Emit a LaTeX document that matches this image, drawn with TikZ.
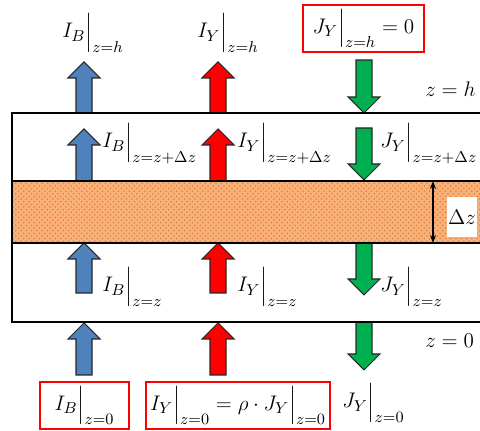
\documentclass[tikz,border=0pt]{standalone}
\usepackage{amsmath}
\usetikzlibrary{arrows.meta, patterns}
\definecolor{fluxblue}{RGB}{79,129,189}
\definecolor{fluxred}{RGB}{255,0,0}
\definecolor{fluxgreen}{RGB}{0,176,80}
\definecolor{layerfill}{RGB}{246,178,122}
\definecolor{layerdots}{RGB}{237,125,49}

% block arrow: x, tail y, tip y, colour
\newcommand{\fluxarrow}[4]{%
  \pgfmathsetmacro{\headbase}{#3+16*sign(#2-#3)}%
  \draw[flux, fill=#4] (#1-8,#2) -- (#1-8,\headbase) -- (#1-16,\headbase) -- (#1,#3)
    -- (#1+16,\headbase) -- (#1+8,\headbase) -- (#1+8,#2) -- cycle;}

\begin{document}
\begin{tikzpicture}[
    x=0.02cm, y=-0.02cm,
    flux/.style={draw=black!85, line width=0.6pt, line join=miter},
    wall/.style={draw=black, line width=1.2pt},
    lbl/.style={font=\fontsize{12.5}{15}\selectfont, inner sep=0pt},
    bc/.style={lbl, draw=red, line width=1.1pt, minimum height=0.94cm},
    dim/.style={{Stealth[length=1.6mm]}-{Stealth[length=1.6mm]}, line width=0.7pt},
]
\useasboundingbox (0,0) rectangle (480,431);
\clip (0,0) rectangle (480,431);

% ---- Layer dz ----
\fill[layerfill] (12,181) rectangle (490,243);
\fill[pattern=crosshatch dots, pattern color=layerdots] (12,181) rectangle (490,243);

% ---- Fluxes ----
\foreach \tail/\tip in {113/62, 181/129, 293/243, 375/323} {
  \fluxarrow{84}{\tail}{\tip}{fluxblue}
  \fluxarrow{218}{\tail}{\tip}{fluxred}
}
\foreach \tail/\tip in {60/113, 128/180, 243/295, 322/370} {
  \fluxarrow{364}{\tail}{\tip}{fluxgreen}
}

% ---- Column walls ----
\draw[wall] (490,113) -- (12,113) -- (12,322) -- (490,322);
\draw[wall] (12,181) -- (490,181);
\draw[wall] (12,243) -- (490,243);

% ---- Layer thickness ----
\coordinate (dztop) at (433,181);
\coordinate (dzbot) at (433,243);
\draw[dim] (dztop) -- (dzbot);
\node[lbl, fill=white, minimum width=0.6cm, minimum height=0.8cm] (dz) at (462,217) {$\Delta z$};

% ---- Top ----
\node[lbl, anchor=base west] (ibh) at (62,38) {$I_B\Big|_{z=h}$};
\node[lbl, anchor=base west] (iyh) at (197,38) {$I_Y\Big|_{z=h}$};
\node[bc, minimum width=2.42cm] (jyh) at (363.5,28.5) {$J_Y\Big|_{z=h}=0$};
\node[lbl, anchor=base west] (zh) at (425,97) {$z=h$};

% ---- Inside ----
\node[lbl, anchor=base west] (ibdz) at (102,148) {$I_B\Big|_{z=z+\Delta z}$};
\node[lbl, anchor=base west] (iydz) at (237,148) {$I_Y\Big|_{z=z+\Delta z}$};
\node[lbl, anchor=base west] (jydz) at (380,148) {$J_Y\Big|_{z=z+\Delta z}$};
\node[lbl, anchor=base west] (ibz) at (102,292) {$I_B\Big|_{z=z}$};
\node[lbl, anchor=base west] (iyz) at (237,292) {$I_Y\Big|_{z=z}$};
\node[lbl, anchor=base west] (jyz) at (380,292) {$J_Y\Big|_{z=z}$};

% ---- Bottom ----
\node[lbl, anchor=base west] (z0) at (425,348) {$z=0$};
\node[bc, minimum width=1.78cm] (ib0) at (84.5,405.5) {$I_B\Big|_{z=0}$};
\node[bc, minimum width=3.68cm] (iy0) at (238,405.5) {$I_Y\Big|_{z=0}=\rho\cdot J_Y\Big|_{z=0}$};
\node[lbl, anchor=base west] (jy0) at (342,408) {$J_Y\Big|_{z=0}$};

\end{tikzpicture}
\end{document}
